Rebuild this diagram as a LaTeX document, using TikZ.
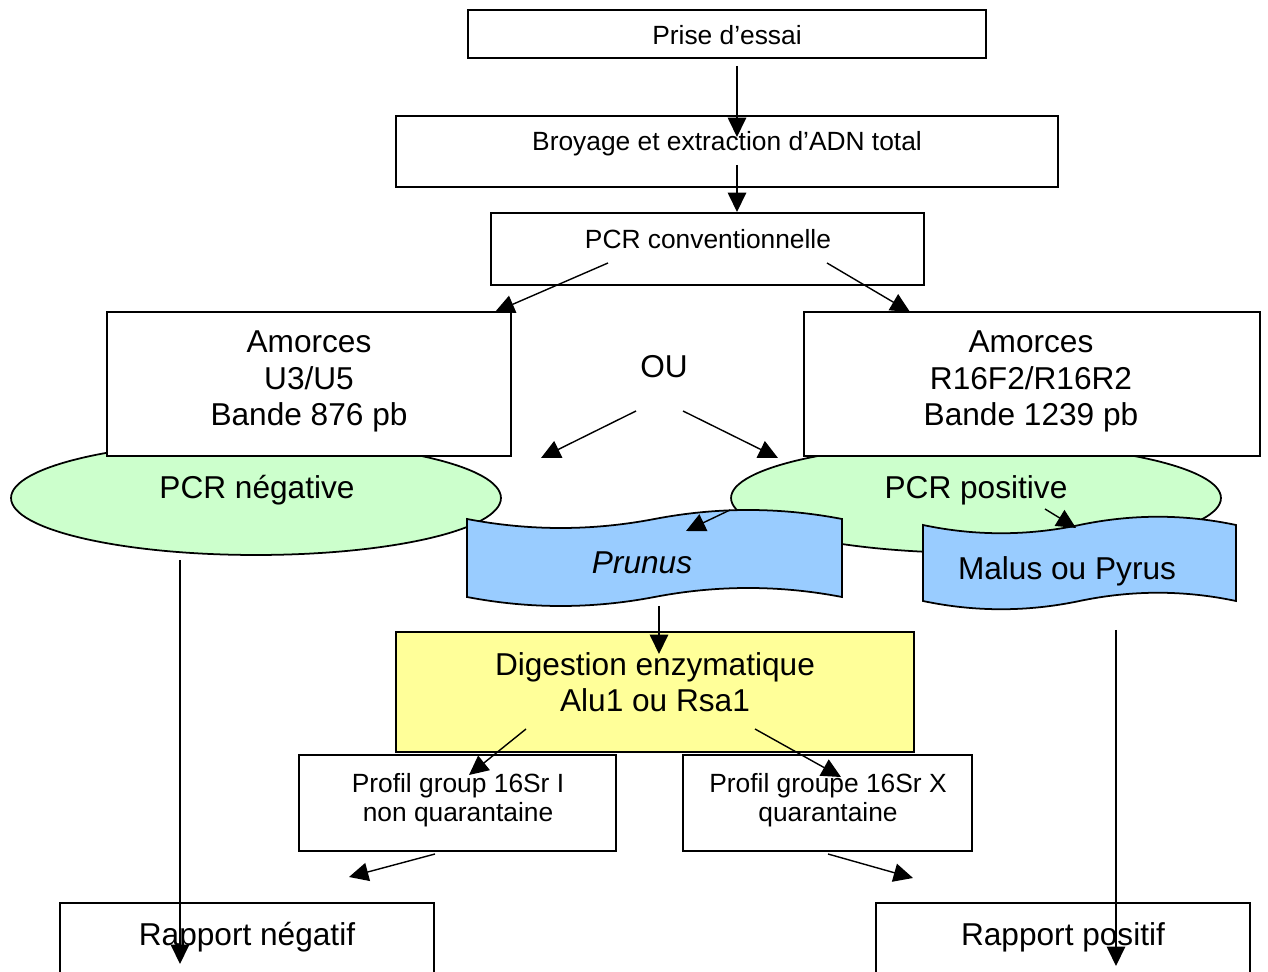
\documentclass[tikz,border=0pt]{standalone}
\usepackage{fontspec}
\setmainfont{Liberation Sans}
\usetikzlibrary{arrows.meta,fit,shapes.geometric}
\definecolor{pgreen}{RGB}{204,255,204}
\definecolor{pblue}{RGB}{153,204,255}
\definecolor{pyellow}{RGB}{255,255,153}
\begin{document}
\begin{tikzpicture}[x=0.02cm,y=-0.02cm,
  rbox/.style={draw, line width=1pt, fill=white, inner sep=0pt, outer sep=0pt},
  oval/.style={draw, line width=1pt, fill=pgreen, ellipse, inner sep=0pt},
  tapeshape/.style={draw, line width=1pt, fill=pblue},
  small/.style={font=\fontsize{15}{17}\selectfont, align=center, anchor=base, inner sep=0pt},
  big/.style={font=\fontsize{18}{21}\selectfont, align=center, anchor=base, inner sep=0pt},
  arr/.style={line width=0.8pt, -{Triangle[length=11pt,width=10.5pt]}}]
\clip (0,0) rectangle (1268,972);
% ellipses (behind)
\node[oval, minimum width=9.8cm, minimum height=2.28cm] (eneg) at (256,498) {};
\node[oval, minimum width=9.8cm, minimum height=2.2cm] (epos) at (976,498) {};
% boxes
\node[rbox, fit={(468,10) (986,58)}] (prise) {};
\node[rbox, fit={(396,116) (1058,187)}] (broyage) {};
\node[rbox, fit={(491,213) (924,285)}] (pcrconv) {};
\node[rbox, fit={(107,312) (511,456)}] (amL) {};
\node[rbox, fit={(804,312) (1260,456)}] (amR) {};
% tapes
\path[tapeshape] (467,519) .. controls (529.5,531) and (592,531) .. (654.5,519)
  .. controls (717,507) and (779.5,507) .. (842,519) -- (842,597)
  .. controls (779.5,585) and (717,585) .. (654.5,597)
  .. controls (592,609) and (529.5,609) .. (467,597) -- cycle;
\path[tapeshape] (923,525) .. controls (975,536) and (1027,536) .. (1079.5,525)
  .. controls (1132,514) and (1184,514) .. (1236,525) -- (1236,601)
  .. controls (1184,590) and (1132,590) .. (1079.5,601)
  .. controls (1027,612) and (975,612) .. (923,601) -- cycle;
\node[rbox, fill=pyellow, fit={(396,632) (914,752)}] (digest) {};
\node[rbox, fit={(299,755) (616,851)}] (profL) {};
\node[rbox, fit={(683,755) (972,851)}] (profR) {};
\node[rbox, fit={(60,903) (434,990)}] (rapN) {};
\node[rbox, fit={(876,903) (1250,990)}] (rapP) {};
% texts (multi-line nodes: base = last line)
\node[small] (tprise) at (727,45) {Prise d’essai};
\node[small] (tbroy) at (727,151) {Broyage et extraction d’ADN total};
\node[small] (tpcr) at (708,249) {PCR conventionnelle};
\node[big] (tamL) at (309,426) {Amorces\\U3/U5\\Bande 876 pb};
\node[big] (tamR) at (1031,426) {Amorces\\R16F2/R16R2\\Bande 1239 pb};
\node[big] (tou) at (664,378) {OU};
\node[big] (tneg) at (257,499) {PCR négative};
\node[big] (tpos) at (976,499) {PCR positive};
\node[big] (prunus) at (642,574) {\itshape Prunus};
\node[big] (malus) at (1067,580) {Malus ou Pyrus};
\node[big] (tdig) at (655,712) {Digestion enzymatique\\Alu1 ou Rsa1};
\node[small] (tprofL) at (458,822) {Profil group 16Sr I\\non quarantaine};
\node[small] (tprofR) at (828,822) {Profil groupe 16Sr X\\quarantaine};
\node[big] (trapN) at (247,945) {Rapport négatif};
\node[big] (trapP) at (1063,945) {Rapport positif};
% arrow end points
\coordinate (a1s) at (737,66);   \coordinate (a1e) at (737,137);
\coordinate (a2s) at (737,165);  \coordinate (a2e) at (737,212);
\coordinate (a3s) at (608,263);  \coordinate (a3e) at (495,312);
\coordinate (a4s) at (827,263);  \coordinate (a4e) at (910,312);
\coordinate (a5s) at (636,411);  \coordinate (a5e) at (541,458);
\coordinate (a6s) at (683,411);  \coordinate (a6e) at (778,458);
\coordinate (a7s) at (730,510);  \coordinate (a7e) at (686,531);
\coordinate (a8s) at (1045,509); \coordinate (a8e) at (1076,528);
\coordinate (a9s) at (659,606);  \coordinate (a9e) at (659,654);
\coordinate (a10s) at (526,729); \coordinate (a10e) at (469,775);
\coordinate (a11s) at (755,729); \coordinate (a11e) at (841,777);
\coordinate (a12s) at (435,854); \coordinate (a12e) at (349,877);
\coordinate (a13s) at (828,854); \coordinate (a13e) at (913,878);
\coordinate (a14s) at (180,560); \coordinate (a14e) at (180,964);
\coordinate (a15s) at (1116,630);\coordinate (a15e) at (1116,966);
\foreach \i in {1,...,15} \draw[arr] (a\i s) -- (a\i e);
\end{tikzpicture}
\end{document}
